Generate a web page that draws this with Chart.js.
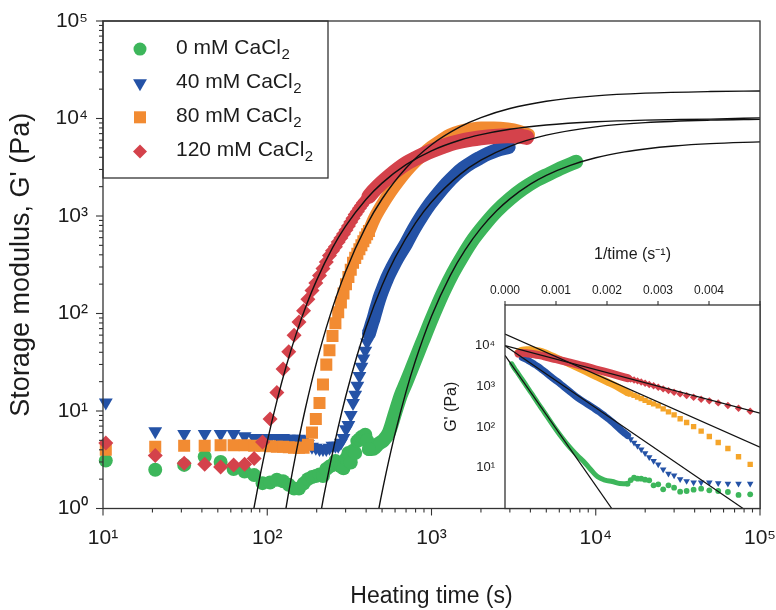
<!DOCTYPE html>
<html>
<head>
<meta charset="utf-8">
<script src="https://cdn.jsdelivr.net/npm/chart.js@4.4.1/dist/chart.umd.min.js"></script>
<style>
  html, body { margin: 0; padding: 0; background: #ffffff; }
  #wrap { position: relative; width: 776px; height: 610px; overflow: hidden; }
  #main { position: absolute; left: 0; top: 0; }
  #inset { position: absolute; left: 440px; top: 230px; }
</style>
</head>
<body>
<div id="wrap">
  <canvas id="main" width="776" height="610"></canvas>
  <canvas id="inset" width="336" height="290"></canvas>
</div>
<script>
// ================= DATA =================
const seriesLabels = ['0 mM CaCl₂', '40 mM CaCl₂', '80 mM CaCl₂', '120 mM CaCl₂'];

// heating times (s) of the individually resolved samples
const timeEarly = [10.4, 20.8, 31.2, 41.6, 52, 62.4, 72.8, 83.2, 93.6, 104,
                   114.4, 124.8, 135.2, 145.6, 156, 166.4, 176.8, 187.2, 197.6, 208,
                   218.4, 228.8, 239.2, 249.6, 260, 270.4, 280.8, 291.2, 301.6, 312,
                   322.4, 332.8, 343.2, 353.6, 364, 374.4, 384.8, 395.2, 405.6, 416];

// G' (Pa) at those times
const g0Early   = [3.1, 2.5, 2.8, 3.4, 3.0, 2.54, 2.4, 2.2, 1.82, 1.85,
                   1.97, 1.9, 1.75, 1.6, 1.6, 1.8, 2.0, 2.1, 2.15, 2.23,
                   2.15, 2.54, 2.69, 2.79, 3.07, 2.9, 2.69, 2.59, 3.25, 3.71,
                   2.96, 3.92, 3.71, 4.91, 5.1, 5.4, 5.4, 5.7, 5.0, 4.07];
const g40Early  = [12.2, 6.2, 5.8, 5.8, 5.8, 5.8, 5.5, 5.3, 5.3, 5.3,
                   5.3, 5.3, 5.2, 5.2, 5.2, 5.1, 4.6, 4.3, 4.2, 4.07,
                   4.07, 4.07, 4.2, 4.39, 4.39, 4.39, 4.72, 5.28, 6.5, 7.2,
                   9.1, 12.1, 14.7, 18.2, 22.8, 28.4, 34.5, 41.5, 50.5, 62];
const g80Early  = [4.0, 4.3, 4.4, 4.4, 4.45, 4.45, 4.45, 4.4, 4.4, 4.35,
                   4.3, 4.3, 4.25, 4.2, 4.2, 4.2, 4.5, 6.0, 8.3, 12.1,
                   18.7, 29.9, 41.9, 58.9, 79.4, 103, 130, 160, 200, 237,
                   281, 332, 372, 409, 455, 500, 550, 600, 650, 700];
const g120Early = [4.69, 3.5, 2.92, 2.85, 2.66, 2.79, 2.85, 3.26, 4.8, 8.26,
                   15.5, 26.9, 40.5, 60, 82, 107, 140, 172, 205, 246,
                   290, 338, 393, 441, 483, 541, 595, 655, 718, 789,
                   868, 951, 1035, 1115, 1200, 1285, 1365, 1440, 1510, 1590];

// densely sampled later part (markers merge into a continuous band)
const g0BandTime   = [416, 430, 445, 475, 510, 550, 600, 650, 700, 760, 830, 900, 980, 1080, 1200, 1350, 1550, 1800, 2100, 2500, 3000, 3600, 4300, 5200, 6300, 7600];
const g0Band       = [4.07, 4.07, 4.1, 4.6, 5.0, 6.0, 9.5, 14.5, 19.5, 27.5, 40, 56, 80, 118, 175, 260, 390, 580, 810, 1130, 1500, 1900, 2300, 2700, 3150, 3600];
const g40BandTime  = [416, 430, 445, 460, 475, 490, 510, 540, 580, 620, 700, 780, 880, 980, 1100, 1240, 1400, 1560, 1760, 1970, 2200, 2500, 2950];
const g40Band      = [62, 75, 90, 110, 132, 155, 185, 235, 300, 370, 520, 730, 1020, 1330, 1700, 2150, 2650, 3100, 3550, 3950, 4350, 4750, 5100];
const g80BandTime  = [416, 450, 500, 560, 630, 710, 800, 900, 1000, 1150, 1300, 1500, 1750, 2000, 2400, 2900, 3400, 3900];
const g80Band      = [700, 950, 1300, 1750, 2300, 2950, 3650, 4400, 5100, 6000, 6800, 7400, 7800, 8000, 8000, 7800, 7400, 6800];
const g120BandTime = [416, 450, 500, 560, 630, 710, 800, 900, 1000, 1150, 1300, 1500, 1750, 2000, 2400, 2900, 3400, 3800];
const g120Band     = [1590, 1850, 2200, 2600, 3050, 3500, 3900, 4300, 4650, 5100, 5500, 5850, 6150, 6350, 6550, 6650, 6600, 6400];

// black model curves in the main panel (time s, G' Pa)
const fit0Time   = [460, 490, 530, 600, 700, 800, 1000, 1300, 1600, 2000, 2500, 3000, 4000, 5000, 7000, 10000, 15000, 20000, 30000, 50000, 100000];
const fit0G      = [0.71, 1.24, 2.35, 5.86, 15.8, 33.1, 93.7, 245, 446, 750, 1137, 1500, 2121, 2612, 3312, 3959, 4547, 4873, 5224, 5521, 5756];
const fit40Time  = [205, 220, 240, 270, 300, 350, 400, 500, 600, 800, 1000, 1500, 2000, 3000, 5000, 10000, 20000, 50000, 100000];
const fit40G     = [0.67, 1.29, 2.71, 6.75, 14.0, 35.8, 72.4, 194, 374, 851, 1393, 2687, 3733, 5184, 6742, 8211, 9062, 9613, 9805];
const fit80Time  = [125, 135, 150, 170, 200, 240, 300, 400, 500, 700, 1000, 1500, 2000, 3000, 5000, 10000, 20000, 50000, 100000];
const fit80G     = [0.68, 1.46, 3.77, 10.3, 31.9, 92.9, 270, 787, 1494, 3108, 5384, 8253, 10220, 12655, 15012, 17066, 18195, 18909, 19154];
const fit120Time = [78, 82, 90, 100, 115, 130, 150, 175, 200, 250, 300, 400, 500, 700, 1000, 1500, 2000, 3000, 5000, 10000, 20000, 50000, 100000];
const fit120G    = [0.565, 0.91, 2.08, 4.86, 13.1, 28.3, 61.8, 128, 220, 473, 786, 1484, 2174, 3362, 4663, 6013, 6828, 7754, 8585, 9265, 9626, 9849, 10150];

// straight model lines in the inset (1/time s^-1, G' Pa)
const insetFit0Inv   = [0, 0.0022];  const insetFit0G   = [5800, 0.64];
const insetFit40Inv  = [0, 0.005];   const insetFit40G  = [10000, 0.52];
const insetFit80Inv  = [0, 0.005];   const insetFit80G  = [19400, 32];
const insetFit120Inv = [0, 0.005];   const insetFit120G = [10000, 220];

// axis ranges / ticks
const mainXRange = [10, 100000];
const mainYRange = [1, 100000];
const insetXTicks = [0, 0.001, 0.002, 0.003, 0.004, 0.005];
const insetYLabelled = [10, 100, 1000, 10000];

// ================= STYLE =================
const FONT = "'Liberation Sans', Arial, Helvetica, sans-serif";
const TEXT = '#1c1c1c';
const FRAME = '#333333';
const GREEN = '#3db65b', BLUE = '#2452a6', ORANGE = '#f28b32', RED = '#d4424b';
const ORANGE_IN = '#f5a52a';

Chart.defaults.font.family = FONT;
Chart.defaults.color = TEXT;

const SUP = {'0':'⁰','1':'¹','2':'²','3':'³','4':'⁴','5':'⁵','6':'⁶','7':'⁷','8':'⁸','9':'⁹','-':'⁻'};
function powLabel(v) {
  const e = Math.log10(v), r = Math.round(e);
  if (Math.abs(e - r) > 1e-6) return '';
  return '10' + String(r).split('').map(c => SUP[c]).join('');
}

const pts = (ts, gs) => ts.map((t, i) => ({ x: t, y: gs[i] }));
const invPts = (ts, gs) => ts.map((t, i) => ({ x: 1 / t, y: gs[i] }))
                             .filter(p => p.x < 0.0049).sort((a, b) => a.x - b.x);

const series = [
  { label: seriesLabels[0], color: GREEN, icolor: GREEN, style: 'circle', rot: 0, r: 7, ri: 2.9, lr: 6.5,
    early: g0Early, bandT: g0BandTime, band: g0Band, fitT: fit0Time, fit: fit0G,
    ifx: insetFit0Inv, ify: insetFit0G, order: 4, bw: 14, ibw: 5 },
  { label: seriesLabels[1], color: BLUE, icolor: BLUE, style: 'triangle', rot: 180, r: 8, ri: 3.8, lr: 8,
    early: g40Early, bandT: g40BandTime, band: g40Band, fitT: fit40Time, fit: fit40G,
    ifx: insetFit40Inv, ify: insetFit40G, order: 3, bw: 14, ibw: 7 },
  { label: seriesLabels[2], color: ORANGE, icolor: ORANGE_IN, style: 'rect', rot: 0, r: 8.5, ri: 3.8, lr: 8.5,
    early: g80Early, bandT: g80BandTime, band: g80Band, fitT: fit80Time, fit: fit80G,
    ifx: insetFit80Inv, ify: insetFit80G, order: 2, bw: 13, ibw: 7 },
  { label: seriesLabels[3], color: RED, icolor: RED, style: 'rectRot', rot: 0, r: 7.5, ri: 3.7, lr: 7,
    early: g120Early, bandT: g120BandTime, band: g120Band, fitT: fit120Time, fit: fit120G,
    ifx: insetFit120Inv, ify: insetFit120G, order: 1, bw: 15, ibw: 8 }
];

// ================= PLUGINS =================
const whiteBg = {
  id: 'whiteBg',
  beforeDraw(chart, args, opts) {
    const { ctx, chartArea: ca } = chart;
    ctx.save();
    ctx.fillStyle = '#ffffff';
    if (opts.areaOnly) ctx.fillRect(ca.left, ca.top, ca.right - ca.left, ca.bottom - ca.top);
    else ctx.fillRect(0, 0, chart.width, chart.height);
    ctx.restore();
  }
};

function logTicks(ctx, scale, horizontal, edge, dir, majorLen, minorLen, withMinor) {
  const lo = Math.floor(Math.log10(scale.min) + 1e-9), hi = Math.ceil(Math.log10(scale.max) - 1e-9);
  for (let d = lo; d <= hi; d++) {
    for (let m = 1; m <= 9; m++) {
      const v = m * Math.pow(10, d);
      if (v < scale.min * 0.999 || v > scale.max * 1.001) continue;
      if (m !== 1 && !withMinor) continue;
      const len = m === 1 ? majorLen : minorLen;
      const p = scale.getPixelForValue(v);
      ctx.beginPath();
      if (horizontal) { ctx.moveTo(p, edge); ctx.lineTo(p, edge + dir * len); }
      else { ctx.moveTo(edge, p); ctx.lineTo(edge + dir * len, p); }
      ctx.stroke();
    }
  }
}

const frameTicks = {
  id: 'frameTicks',
  afterDraw(chart, args, opts) {
    const { ctx, chartArea: ca } = chart;
    ctx.save();
    ctx.strokeStyle = FRAME;
    ctx.lineWidth = 1.3;
    ctx.strokeRect(ca.left, ca.top, ca.right - ca.left, ca.bottom - ca.top);
    ctx.lineWidth = 1.1;
    if (opts.kind === 'main') {
      logTicks(ctx, chart.scales.x, true, ca.bottom, 1, 7, 4, true);
      logTicks(ctx, chart.scales.y, false, ca.left, -1, 7, 4, true);
    } else {
      const sx = chart.scales.x;
      insetXTicks.forEach(v => {
        const p = sx.getPixelForValue(v);
        ctx.beginPath(); ctx.moveTo(p, ca.top); ctx.lineTo(p, ca.top - 4); ctx.stroke();
      });
    }
    ctx.restore();
  }
};

const boxLegend = {
  id: 'boxLegend',
  afterDatasetsDraw(chart, args, opts) {
    const { ctx, chartArea: ca } = chart;
    ctx.save();
    ctx.fillStyle = '#ffffff';
    ctx.fillRect(ca.left, ca.top, opts.width, opts.height);
    ctx.strokeStyle = FRAME; ctx.lineWidth = 1.3;
    ctx.strokeRect(ca.left, ca.top, opts.width, opts.height);
    series.forEach((s, i) => {
      const base = ca.top + opts.firstBaseline + i * opts.rowGap;
      ctx.fillStyle = s.color;
      Chart.helpers.drawPoint(ctx, { pointStyle: s.style, rotation: s.rot, radius: s.lr, borderWidth: 0 },
                              ca.left + opts.markerX, base - 4.5);
      ctx.fillStyle = TEXT;
      ctx.textAlign = 'left';
      ctx.textBaseline = 'alphabetic';
      ctx.font = '21px ' + FONT;
      const txt = s.label.replace('₂', '');
      ctx.fillText(txt, ca.left + opts.textX, base);
      const w = ctx.measureText(txt).width;
      ctx.font = '15px ' + FONT;
      ctx.fillText('2', ca.left + opts.textX + w + 0.5, base + 5);
    });
    ctx.restore();
  }
};

// scales should not reserve extra room for overhanging end labels
const noOverhangX = s => { s.paddingLeft = 0; s.paddingRight = 0; };
const noOverhangY = s => { s.paddingTop = 0; s.paddingBottom = 0; };

// ================= MAIN CHART =================
const mainDatasets = [];
series.forEach(s => {
  mainDatasets.push({
    label: s.label + ' fit', data: pts(s.fitT, s.fit), showLine: true,
    borderColor: '#111111', borderWidth: 1.4, pointRadius: 0, pointHoverRadius: 0,
    cubicInterpolationMode: 'monotone', order: 0, clip: 0
  });
});
series.forEach(s => {
  mainDatasets.push({
    label: s.label, data: pts(timeEarly, s.early), showLine: false,
    pointStyle: s.style, pointRotation: s.rot, pointRadius: s.r, pointHoverRadius: s.r,
    pointBackgroundColor: s.color, pointBorderColor: s.color, pointBorderWidth: 0,
    backgroundColor: s.color, borderColor: s.color, order: s.order, clip: 10
  });
  mainDatasets.push({
    label: s.label + ' band', data: pts(s.bandT, s.band), showLine: true,
    borderColor: s.color, borderWidth: s.bw, pointRadius: 0, pointHoverRadius: 0,
    borderCapStyle: 'round', borderJoinStyle: 'round',
    cubicInterpolationMode: 'monotone', order: s.order, clip: 10
  });
});

new Chart(document.getElementById('main'), {
  type: 'scatter',
  data: { datasets: mainDatasets },
  options: {
    responsive: false, animation: false, devicePixelRatio: 1, events: [],
    layout: { padding: { left: 0, right: 16, top: 21, bottom: 0 } },
    plugins: {
      legend: { display: false }, tooltip: { enabled: false },
      frameTicks: { kind: 'main' },
      boxLegend: { width: 225, height: 157, firstBaseline: 32.6, rowGap: 34.1, markerX: 37, textX: 73 }
    },
    scales: {
      x: {
        type: 'logarithmic', position: 'bottom', min: mainXRange[0], max: mainXRange[1],
        grid: { display: false, drawTicks: false }, border: { display: false },
        ticks: { autoSkip: false, maxRotation: 0, minRotation: 0, padding: 17, font: { size: 21 }, color: TEXT,
                 callback: v => powLabel(v) },
        title: { display: true, text: 'Heating time (s)', font: { size: 23 }, color: TEXT, padding: { top: 0, bottom: 0 } },
        afterFit: s => { s.height = 101.5; noOverhangX(s); }
      },
      y: {
        type: 'logarithmic', position: 'left', min: mainYRange[0], max: mainYRange[1],
        grid: { display: false, drawTicks: false }, border: { display: false },
        ticks: { autoSkip: false, padding: 15, font: { size: 21 }, color: TEXT, callback: v => powLabel(v) },
        title: { display: true, text: "Storage modulus, G' (Pa)", font: { size: 27 }, color: TEXT, padding: { top: 5, bottom: 0 } },
        afterFit: s => { s.width = 103; noOverhangY(s); }
      }
    }
  },
  plugins: [whiteBg, boxLegend, frameTicks]
});

// ================= INSET CHART =================
const insetDatasets = [];
series.forEach(s => {
  insetDatasets.push({
    label: s.label + ' fit', data: pts(s.ifx, s.ify), showLine: true,
    borderColor: '#111111', borderWidth: 1.2, pointRadius: 0, pointHoverRadius: 0, order: 0, clip: 0
  });
});
series.forEach(s => {
  insetDatasets.push({
    label: s.label, data: invPts(timeEarly, s.early), showLine: false,
    pointStyle: s.style, pointRotation: s.rot, pointRadius: s.ri, pointHoverRadius: s.ri,
    pointBackgroundColor: s.icolor, pointBorderColor: s.icolor, pointBorderWidth: 0,
    backgroundColor: s.icolor, borderColor: s.icolor, order: s.order, clip: 0
  });
  insetDatasets.push({
    label: s.label + ' band', data: invPts(s.bandT, s.band), showLine: true,
    borderColor: s.icolor, borderWidth: s.ibw, pointRadius: 0, pointHoverRadius: 0,
    borderCapStyle: 'round', borderJoinStyle: 'round',
    cubicInterpolationMode: 'monotone', order: s.order, clip: 0
  });
});

new Chart(document.getElementById('inset'), {
  type: 'scatter',
  data: { datasets: insetDatasets },
  options: {
    responsive: false, animation: false, devicePixelRatio: 1, events: [],
    layout: { padding: { left: 0, right: 16, top: 0, bottom: 11.5 } },
    plugins: { legend: { display: false }, tooltip: { enabled: false }, whiteBg: { areaOnly: true }, frameTicks: { kind: 'inset' } },
    scales: {
      x: {
        type: 'linear', position: 'top', min: insetXTicks[0], max: insetXTicks[insetXTicks.length - 1],
        grid: { display: false, drawTicks: false }, border: { display: false },
        ticks: { stepSize: 0.001, autoSkip: false, maxRotation: 0, padding: 7, font: { size: 12 }, color: TEXT,
                 callback: v => (v > 0.0045 ? '' : Number(v).toFixed(3)) },
        title: { display: true, text: '1/time (s⁻¹)', font: { size: 16 }, color: TEXT, padding: { top: 15, bottom: 0 } },
        afterFit: s => { s.height = 75; noOverhangX(s); }
      },
      y: {
        type: 'logarithmic', position: 'left', min: 1, max: 100000,
        grid: { display: false, drawTicks: false }, border: { display: false },
        ticks: { autoSkip: false, padding: 10, font: { size: 13 }, color: TEXT,
                 callback: v => (insetYLabelled.some(l => Math.abs(l - v) < 1e-6 * l) ? powLabel(v) : '') },
        title: { display: true, text: "G' (Pa)", font: { size: 16 }, color: TEXT, padding: { top: 2, bottom: 0 } },
        afterFit: s => { s.width = 65; noOverhangY(s); }
      }
    }
  },
  plugins: [whiteBg, frameTicks]
});
</script>
</body>
</html>
